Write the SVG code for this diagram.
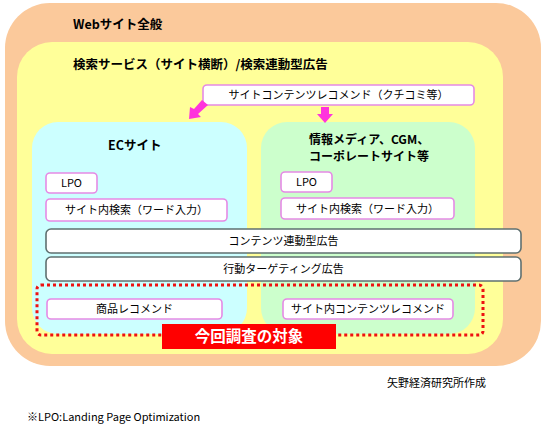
<svg xmlns="http://www.w3.org/2000/svg" width="548" height="428" viewBox="0 0 548 428">
<style>
text{font-family:"Noto Sans CJK JP","Liberation Sans",sans-serif;fill:#000}
.t{font-size:11px}
.b{font-size:12.5px;font-weight:bold}
.pk{fill:#fff;stroke:#e58ae5;stroke-width:1.6}
.bar{fill:#fff;stroke:#5f7070;stroke-width:1.6}
.arr{fill:#ff33dd}
</style>
<rect width="548" height="428" fill="#fff"/>
<g id="web">
<rect x="5" y="3" width="536" height="363" rx="45" fill="#fbc99b"/>
<text class="b" x="73" y="29">Webサイト全般</text>
</g>
<g id="search">
<rect x="17" y="42" width="486" height="312" rx="35" fill="#ffff99"/>
<text class="b" x="73" y="69">検索サービス（サイト横断）/検索連動型広告</text>
</g>
<g id="ec">
<rect x="32" y="122" width="215" height="212" rx="26" fill="#ccffff"/>
<text class="b" x="108" y="150">ECサイト</text>
</g>
<g id="media">
<rect x="261" y="122" width="214" height="212" rx="26" fill="#ccffcc"/>
<text class="b" x="309" y="144" style="font-size:12px">情報メディア、CGM、</text>
<text class="b" x="309" y="161" style="font-size:12px">コーポレートサイト等</text>
</g>
<g id="kuchikomi">
<rect class="pk" x="203" y="85" width="271" height="20" rx="4"/>
<text class="t" x="338.5" y="99" text-anchor="middle">サイトコンテンツレコメンド（クチコミ等）</text>
</g>
<g id="lpo1"><rect class="pk" x="46" y="173" width="51" height="20" rx="4"/><text class="t" x="71.5" y="187" text-anchor="middle">LPO</text></g>
<g id="search1"><rect class="pk" x="46" y="199" width="181" height="22" rx="4"/><text class="t" x="136.5" y="214" text-anchor="middle">サイト内検索（ワード入力）</text></g>
<g id="lpo2"><rect class="pk" x="281" y="172" width="51" height="20" rx="4"/><text class="t" x="306.5" y="186" text-anchor="middle">LPO</text></g>
<g id="search2"><rect class="pk" x="281" y="198" width="173" height="21" rx="4"/><text class="t" x="367.5" y="213" text-anchor="middle">サイト内検索（ワード入力）</text></g>
<g id="content-ad"><rect class="bar" x="46" y="229" width="475" height="24" rx="5"/><text class="t" x="283.5" y="245" text-anchor="middle">コンテンツ連動型広告</text></g>
<g id="behavior-ad"><rect class="bar" x="46" y="257" width="475" height="24" rx="5"/><text class="t" x="283.5" y="273" text-anchor="middle">行動ターゲティング広告</text></g>
<g id="target">
<rect x="37" y="285" width="446" height="50" rx="4" fill="none" stroke="#ee1111" stroke-width="3" stroke-dasharray="3,3"/>
</g>
<g id="product-rec"><rect class="pk" x="47" y="299" width="175" height="20" rx="4"/><text class="t" x="134.5" y="313" text-anchor="middle">商品レコメンド</text></g>
<g id="content-rec"><rect class="pk" x="283" y="299" width="170" height="20" rx="4"/><text class="t" x="368" y="313" text-anchor="middle">サイト内コンテンツレコメンド</text></g>
<g id="target-label">
<rect x="162" y="324" width="174" height="25" fill="#ff0000"/>
<text x="249" y="342" text-anchor="middle" style="font-size:15.5px;font-weight:bold;fill:#fff">今回調査の対象</text>
</g>
<g id="connectors">
<polygon class="arr" points="202,100 208,105 198,114 201,117 189,119 190,107 194,109"/>
<polygon class="arr" points="321,107 329,107 329,114 333,114 325,123 317,114 321,114"/>
</g>
<g id="notes">
<text class="t" x="387" y="387">矢野経済研究所作成</text>
<text class="t" x="27" y="421">※LPO:Landing Page Optimization</text>
</g>
</svg>
